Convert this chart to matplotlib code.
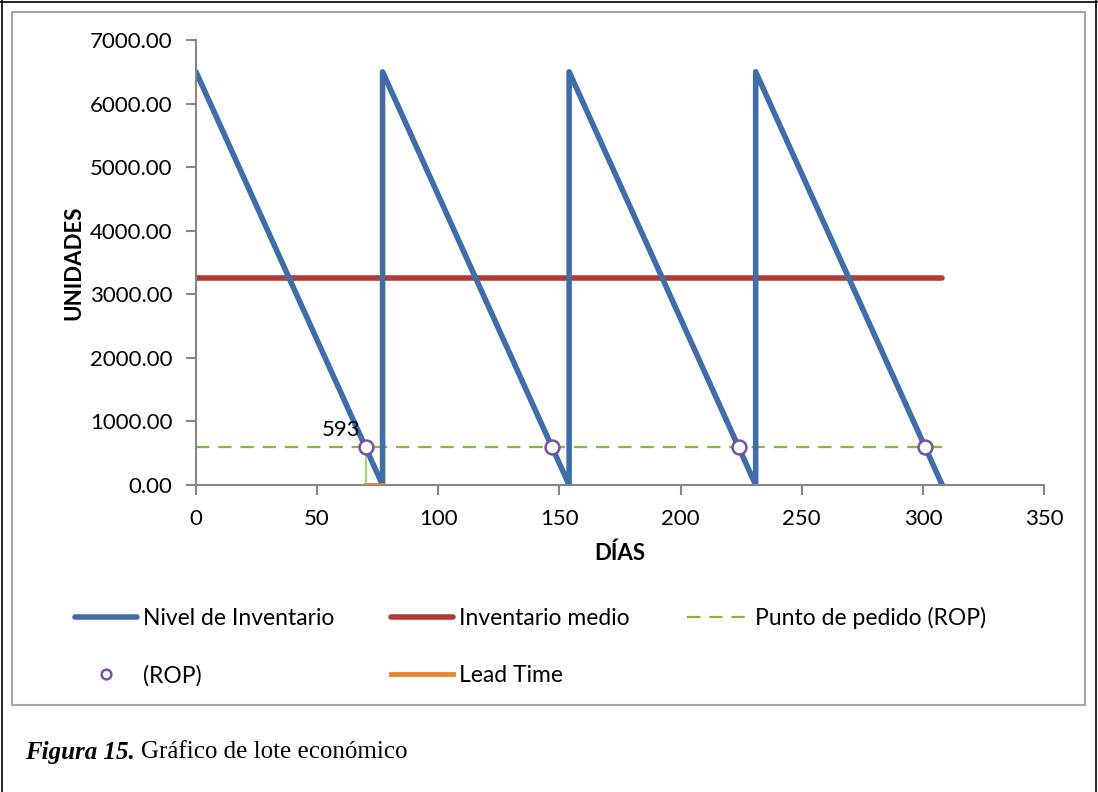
import numpy as np
import matplotlib.pyplot as plt
from matplotlib.patches import Rectangle
from matplotlib.lines import Line2D

# inventory saw-tooth (order quantity 6500, cycle 77 days)
dias = [0, 77, 77, 154, 154, 231, 231, 308]
unidades = [6500, 0, 6500, 0, 6500, 0, 6500, 0]

# average inventory
medio_x = [0, 308]
medio_y = [3250, 3250]

# reorder point
rop = 593
rop_x = [0, 308]
rop_dias = [70, 147, 224, 301]
rop_vals = [593, 593, 593, 593]

# lead time (first cycle)
lead_x = [70, 77]
lead_y = [0, 0]
lead_v_x = [70, 70]
lead_v_y = [0, 593]

azul = '#3F6DAA'
rojo = '#B23B36'
verde = '#8AB541'
naranja = '#E9852F'
morado = '#7A52A0'
gris = '#868686'

plt.rcParams['font.family'] = ['Lato', 'DejaVu Sans']

fig = plt.figure(figsize=(10.98, 7.92), dpi=100)

# frames
fig.patches.append(Rectangle((12 / 1098, 1 - 705 / 792), (1085 - 12) / 1098, (705 - 12) / 792,
                             transform=fig.transFigure, fill=False, edgecolor='#A6A6A6', lw=1.5))
fig.add_artist(Line2D([0.002, 0.002], [0, 1], color='black', lw=1.2, transform=fig.transFigure))
fig.add_artist(Line2D([0.998, 0.998], [0, 1], color='black', lw=1.2, transform=fig.transFigure))
fig.add_artist(Line2D([0, 1], [0.998, 0.998], color='black', lw=1.2, transform=fig.transFigure))

ax = fig.add_axes([196 / 1098, 1 - 485 / 792, (1044 - 196) / 1098, (485 - 40) / 792])

l_rop, = ax.plot(rop_x, [rop, rop], color=verde, lw=1.6, dashes=(6, 4), label='Punto de pedido (ROP)')
ax.plot(lead_v_x, lead_v_y, color='#92D050', lw=1.2)
l_med, = ax.plot(medio_x, medio_y, color=rojo, lw=4, solid_capstyle='round', label='Inventario medio')
l_inv, = ax.plot(dias, unidades, color=azul, lw=4, solid_capstyle='round',
                 solid_joinstyle='round', label='Nivel de Inventario')
l_lead, = ax.plot(lead_x, lead_y, color=naranja, lw=3.5, label='Lead Time', zorder=4)
l_pts, = ax.plot(rop_dias, rop_vals, 'o', ms=10, mfc='white', mec=morado, mew=1.8,
                 label='(ROP)', zorder=5)
ax.text(rop_dias[0] - 2, rop + 110, str(rop), ha='right', va='bottom', fontsize=16)

ax.set_xlim(0, 350)
ax.set_ylim(0, 7000)
ax.set_xticks(np.arange(0, 351, 50))
ax.set_yticks(np.arange(0, 7001, 1000))
ax.yaxis.set_major_formatter(lambda v, p: f'{v:.2f}')
for s in ['top', 'right']:
    ax.spines[s].set_visible(False)
for s in ['left', 'bottom']:
    ax.spines[s].set_color(gris)
    ax.spines[s].set_linewidth(1.5)
ax.tick_params(colors=gris, labelcolor='black', labelsize=16, width=1.5, length=7)
ax.tick_params(axis='x', pad=10)
ax.tick_params(axis='y', pad=10)
ax.set_xlabel('DÍAS', fontsize=16, fontweight='bold', labelpad=10)
ax.set_ylabel('UNIDADES', fontsize=16, fontweight='bold', labelpad=4)

fig.legend([l_inv, l_pts, l_med, l_lead, l_rop],
           ['Nivel de Inventario', '(ROP)', 'Inventario medio', 'Lead Time', 'Punto de pedido (ROP)'],
           ncol=3, loc='upper left', bbox_to_anchor=(66 / 1098, 1 - 598 / 792),
           frameon=False, fontsize=16.5, handlelength=2.7, handletextpad=0.25,
           columnspacing=2.5, labelspacing=1.55, markerscale=0.7, borderaxespad=0)

cap_y = 1 - 752 / 792
t1 = fig.text(25 / 1098, cap_y, 'Figura 15.', family='Liberation Serif', style='italic',
              fontweight='bold', fontsize=18, va='center')
fig.canvas.draw()
bb = t1.get_window_extent()
fig.text((bb.x1 + 6) / 1098, cap_y, 'Gráfico de lote económico', family='Liberation Serif',
         fontsize=18, va='center')

fig.savefig('out.png', dpi=100)
